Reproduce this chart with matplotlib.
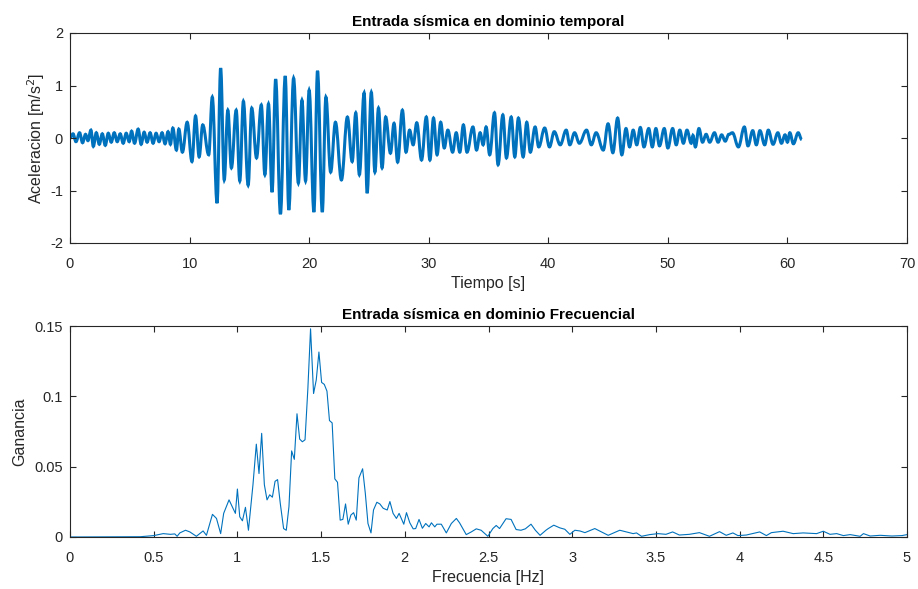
import matplotlib
matplotlib.use("Agg")
import matplotlib.pyplot as plt
from matplotlib.path import Path
from matplotlib.patches import PathPatch

plt.rcParams['font.family'] = ['Liberation Sans', 'DejaVu Sans']
plt.rcParams['axes.unicode_minus'] = False

# --- Time-domain record: successive peaks/troughs ---
t_s = [0.0, 0.25, 0.5, 0.8, 1.05, 1.3, 1.5, 1.75, 1.95, 2.2, 2.45, 2.7, 2.95, 3.2, 3.45,
       3.7, 3.95, 4.2, 4.45, 4.7, 4.95, 5.15, 5.4, 5.7, 5.95, 6.2, 6.45, 6.7, 6.95, 7.2,
       7.45, 7.7, 7.95, 8.2, 8.4, 8.6, 8.9, 9.1, 9.4, 9.8, 10.2, 10.5, 10.8, 11.1, 11.6,
       11.9, 12.3, 12.6, 12.9, 13.2, 13.5, 13.9, 14.2, 14.5, 14.9, 15.2, 15.6, 16.0, 16.3,
       16.6, 16.9, 17.2, 17.6, 18.0, 18.3, 18.7, 19.1, 19.4, 19.7, 20.0, 20.4, 20.7, 21.1,
       21.4, 21.8, 22.2, 22.7, 23.2, 23.6, 23.9, 24.2, 24.6, 24.85, 25.2, 25.5, 25.8, 26.1,
       26.4, 26.8, 27.1, 27.4, 27.8, 28.1, 28.4, 28.7, 29.0, 29.4, 29.8, 30.1, 30.4, 30.7,
       31.0, 31.3, 31.6, 32.0, 32.3, 32.6, 32.9, 33.2, 33.7, 34.0, 34.3, 34.55, 34.8, 35.1,
       35.5, 35.8, 36.2, 36.5, 36.9, 37.2, 37.5, 37.9, 38.2, 38.5, 38.9, 39.2, 39.7, 40.1,
       40.5, 41.0, 41.5, 41.8, 42.2, 42.6, 43.2, 43.6, 44.0, 44.6, 45.0, 45.4, 45.8, 46.15,
       46.5, 46.8, 47.1, 47.4, 47.7, 48.0, 48.4, 48.7, 49.0, 49.3, 49.7, 50.0, 50.4, 50.7,
       51.0, 51.3, 51.6, 51.95, 52.1, 52.3, 52.6, 52.9, 53.2, 53.5, 53.9, 54.2, 54.5, 54.8,
       55.1, 55.4, 55.9, 56.4, 56.7, 57.1, 57.4, 57.7, 58.1, 58.4, 58.8, 59.2, 59.5, 59.8,
       60.0, 60.2, 60.5, 60.9, 61.2]
acc = [0.0, 0.08, -0.07, 0.10, -0.09, 0.07, -0.05, 0.15, -0.16, 0.10, -0.12, 0.08, -0.14, 0.09, -0.08,
       0.10, -0.07, 0.08, -0.10, 0.09, -0.07, 0.13, -0.10, 0.17, -0.12, 0.11, -0.08, 0.10, -0.10, 0.09,
       -0.07, 0.10, -0.11, 0.12, -0.12, 0.19, -0.23, 0.17, -0.27, 0.30, -0.45, 0.42, -0.36, 0.25, -0.32,
       0.78, -1.24, 1.33, -0.80, 0.53, -0.57, 0.53, -0.82, 0.70, -0.90, 0.57, -0.38, 0.63, -0.70,
       0.65, -1.03, 1.12, -1.45, 1.18, -1.37, 1.14, -0.86, 0.72, -0.82, 0.91, -1.41, 1.28, -1.41,
       0.78, -0.65, 0.30, -0.80, 0.40, -0.45, 0.48, -0.70, 0.86, -1.05, 0.87, -0.65, 0.57, -0.57,
       0.40, -0.29, 0.28, -0.46, 0.53, -0.27, 0.15, -0.13, 0.29, -0.42, 0.40, -0.42, 0.38, -0.32,
       0.30, -0.19, 0.15, -0.27, 0.10, -0.27, 0.25, -0.27, 0.21, -0.23, 0.10, -0.13, 0.21, -0.32,
       0.48, -0.51, 0.44, -0.38, 0.40, -0.36, 0.38, -0.36, 0.30, -0.27, 0.21, -0.17, 0.19, -0.17,
       0.12, -0.13, 0.15, -0.13, 0.10, -0.10, 0.15, -0.13, 0.10, -0.23, 0.27, -0.28, 0.38, -0.32,
       0.18, -0.17, 0.15, -0.13, 0.20, -0.17, 0.18, -0.17, 0.18, -0.15, 0.18, -0.19, 0.18, -0.13,
       0.15, -0.10, 0.15, -0.10, 0.05, -0.17, 0.18, -0.08, 0.07, -0.08, 0.10, -0.08, 0.06, -0.06,
       0.07, 0.10, -0.17, 0.21, -0.15, 0.14, -0.13, 0.14, -0.13, 0.15, -0.12, 0.10, -0.10, 0.06,
       -0.08, 0.10, -0.11, 0.10, -0.03]

# --- Frequency-domain amplitude ---
freq = [0.0, 0.42, 0.5, 0.557, 0.6, 0.626, 0.64, 0.656, 0.69, 0.716, 0.755, 0.795, 0.815,
        0.851, 0.875, 0.9, 0.918, 0.95, 0.974, 0.988, 1.0, 1.014, 1.03, 1.048, 1.066, 1.093,
        1.113, 1.129, 1.145, 1.161, 1.177, 1.193, 1.209, 1.225, 1.24, 1.256, 1.276, 1.292,
        1.308, 1.324, 1.34, 1.356, 1.372, 1.388, 1.404, 1.421, 1.437, 1.455, 1.471, 1.487,
        1.503, 1.519, 1.535, 1.55, 1.566, 1.582, 1.598, 1.614, 1.63, 1.646, 1.662, 1.678,
        1.694, 1.71, 1.726, 1.748, 1.764, 1.78, 1.798, 1.813, 1.833, 1.851, 1.871, 1.895,
        1.911, 1.93, 1.95, 1.966, 1.994, 2.01, 2.03, 2.05, 2.065, 2.085, 2.105, 2.125, 2.145,
        2.159, 2.179, 2.192, 2.218, 2.248, 2.278, 2.308, 2.327, 2.367, 2.397, 2.427, 2.456,
        2.496, 2.526, 2.546, 2.566, 2.605, 2.635, 2.665, 2.694, 2.72, 2.754, 2.78, 2.808,
        2.843, 2.857, 2.89, 2.926, 2.956, 2.986, 3.016, 3.046, 3.076, 3.135, 3.175, 3.215,
        3.284, 3.324, 3.364, 3.384, 3.414, 3.463, 3.513, 3.56, 3.6, 3.64, 3.70, 3.76, 3.82,
        3.88, 3.92, 3.96, 3.99, 4.04, 4.12, 4.16, 4.19, 4.26, 4.32, 4.38, 4.46, 4.50, 4.54,
        4.58, 4.62, 4.66, 4.72, 4.74, 4.78, 4.84, 4.91, 4.97, 5.0]
gain = [0.0, 0.0002, 0.001, 0.0024, 0.0019, 0.0022, 0.0005, 0.0029, 0.0048, 0.0036, 0.0005, 0.0043, 0.0012,
        0.0161, 0.0132, 0.0024, 0.0168, 0.0264, 0.0204, 0.0168, 0.0341, 0.0144, 0.0115, 0.0211, 0.0048, 0.0372,
        0.066, 0.0451, 0.0737, 0.0372, 0.0264, 0.030, 0.0283, 0.0396, 0.0408, 0.024, 0.006, 0.0048,
        0.0216, 0.0612, 0.0552, 0.0876, 0.0696, 0.0677, 0.0691, 0.1056, 0.148, 0.102, 0.1116, 0.1315,
        0.1099, 0.1085, 0.1037, 0.0828, 0.0811, 0.0413, 0.0389, 0.012, 0.0125, 0.0235, 0.0091, 0.0156,
        0.0173, 0.012, 0.042, 0.0485, 0.0312, 0.0096, 0.0029, 0.0192, 0.0247, 0.0235, 0.0204, 0.0192,
        0.0252, 0.0168, 0.0132, 0.0168, 0.0091, 0.0173, 0.0101, 0.0058, 0.006, 0.0125, 0.0062, 0.0096, 0.0072,
        0.0101, 0.0072, 0.0091, 0.0091, 0.0029, 0.0096, 0.0132, 0.0101, 0.0017, 0.0036, 0.0058, 0.0048,
        0.0005, 0.006, 0.0082, 0.006, 0.013, 0.0125, 0.0053, 0.0048, 0.0058, 0.0091, 0.0048, 0.0012,
        0.0048, 0.006, 0.0084, 0.0065, 0.0055, 0.0019, 0.0048, 0.0043, 0.0031, 0.006, 0.0036, 0.0012,
        0.0048, 0.0036, 0.0024, 0.0029, 0.0005, 0.0017, 0.0024, 0.0019, 0.0036, 0.0014, 0.0019, 0.0031, 0.0005,
        0.0038, 0.0012, 0.0029, 0.001, 0.0014, 0.0036, 0.001, 0.0031, 0.0041, 0.0024, 0.0029, 0.0024, 0.0041, 0.0019,
        0.0024, 0.001, 0.0017, 0.0005, 0.0024, 0.0007, 0.0012, 0.0007, 0.001, 0.0017]

time_xticks = [0, 10, 20, 30, 40, 50, 60, 70]
time_yticks = [-2, -1, 0, 1, 2]
freq_xticks = [0, 0.5, 1, 1.5, 2, 2.5, 3, 3.5, 4, 4.5, 5]
freq_xlabels = ['0', '0.5', '1', '1.5', '2', '2.5', '3', '3.5', '4', '4.5', '5']
freq_yticks = [0, 0.05, 0.1, 0.15]
freq_ylabels = ['0', '0.05', '0.1', '0.15']

W, H = 918, 589
fig = plt.figure(figsize=(W / 100, H / 100), dpi=100)
ax1 = fig.add_axes([70 / W, 1 - 243 / H, 837 / W, 210 / H])
ax2 = fig.add_axes([70 / W, 1 - 537 / H, 837 / W, 211 / H])

line_c = '#0072BD'
axc = '#262626'

# smooth oscillation between successive extrema (horizontal tangents at each extremum)
verts = [(t_s[0], acc[0])]
codes = [Path.MOVETO]
for i in range(1, len(t_s)):
    t0, a0, t1, a1 = t_s[i - 1], acc[i - 1], t_s[i], acc[i]
    dt = t1 - t0
    verts += [(t0 + 0.38 * dt, a0), (t1 - 0.38 * dt, a1), (t1, a1)]
    codes += [Path.CURVE4] * 3
ax1.add_patch(PathPatch(Path(verts, codes), fill=False, edgecolor=line_c, lw=2.2))

ax2.plot(freq, gain, color=line_c, lw=0.8)

ax1.set_xlim(0, 70)
ax1.set_ylim(-2, 2)
ax1.set_xticks(time_xticks)
ax1.set_yticks(time_yticks)
ax2.set_xlim(0, 5)
ax2.set_ylim(0, 0.15)
ax2.set_xticks(freq_xticks)
ax2.set_xticklabels(freq_xlabels)
ax2.set_yticks(freq_yticks)
ax2.set_yticklabels(freq_ylabels)

for ax in (ax1, ax2):
    for s in ax.spines.values():
        s.set_color(axc)
        s.set_linewidth(0.8)
    ax.tick_params(direction='in', top=True, right=True, length=4.5, width=0.8,
                   colors=axc, labelsize=10.5)
    ax.tick_params(axis='x', pad=10)
    ax.tick_params(axis='y', pad=5)

ax1.set_title('Entrada sísmica en dominio temporal', fontsize=11, fontweight='bold', pad=5)
ax1.set_xlabel('Tiempo [s]', fontsize=11.5, color=axc, labelpad=4)
ax1.set_ylabel('Aceleracion [m/s$^2$]', fontsize=11.5, color=axc, labelpad=2)
ax2.set_title('Entrada sísmica en dominio Frecuencial', fontsize=11, fontweight='bold', pad=5)
ax2.set_xlabel('Frecuencia [Hz]', fontsize=11.5, color=axc, labelpad=4)
ax2.set_ylabel('Ganancia', fontsize=11.5, color=axc, labelpad=5)

fig.savefig('out.png', dpi=100)
